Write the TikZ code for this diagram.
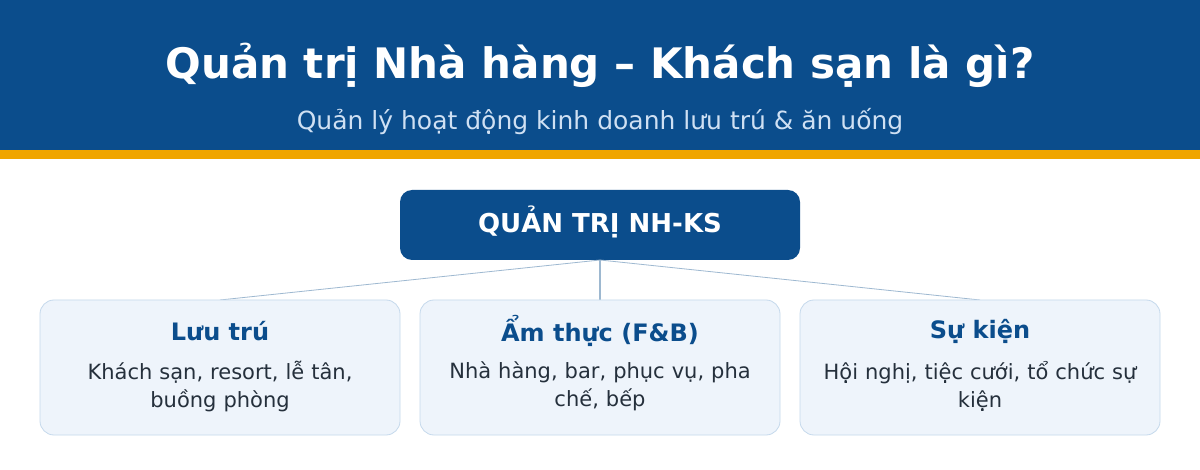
\documentclass[tikz,border=0pt]{standalone}
\usepackage{fontspec}
\setmainfont{DejaVu Sans}
\definecolor{hdr}{HTML}{0B4D8C}
\definecolor{gold}{HTML}{F0A500}
\definecolor{sub}{HTML}{CFE0F3}
\definecolor{cardfill}{HTML}{EEF4FB}
\definecolor{cardline}{HTML}{C5D9EC}
\definecolor{conn}{HTML}{9DB8D0}
\definecolor{bodytxt}{HTML}{25303C}
\tikzset{
  card/.style={draw=cardline, fill=cardfill, line width=0.8pt, rounded corners=14pt},
  cardtitle/.style={font=\fontsize{24}{28}\selectfont\bfseries, text=hdr},
  cardbody/.style={font=\fontsize{21}{28}\selectfont, text=bodytxt, align=center, text width=340pt},
  conline/.style={draw=conn, line width=0.8pt}
}
\begin{document}
\begin{tikzpicture}[x=1pt,y=-1pt]
\useasboundingbox (0,0) rectangle (1200,470);
\fill[white] (0,0) rectangle (1200,470);
\fill[hdr] (0,0) rectangle (1200,150);
\fill[gold] (0,150) rectangle (1200,159);
\node (title) at (600,65) {\fontsize{42}{50}\selectfont\bfseries\color{white}Quản trị Nhà hàng – Khách sạn là gì?};
\node (subtitle) at (600,121.5) {\fontsize{25}{30}\selectfont\color{sub}Quản lý hoạt động kinh doanh lưu trú \& ăn uống};
\node[fill=hdr, rounded corners=12pt, minimum width=400pt, minimum height=70pt, inner sep=0pt] (root) at (600,225) {};
\node (roottxt) at (600,222) {\fontsize{26}{30}\selectfont\bfseries\color{white}QUẢN TRỊ NH-KS};
\coordinate (rb) at (600,260);
\coordinate (c1) at (220,300);
\coordinate (c2) at (600,300);
\coordinate (c3) at (980,300);
\draw[conline] (rb) -- (c1);
\draw[conline, line width=1.2pt] (rb) -- (c2);
\draw[conline] (rb) -- (c3);
\node[card, minimum width=360pt, minimum height=135pt, inner sep=0pt] (b1) at (220,367.5) {};
\node[card, minimum width=360pt, minimum height=135pt, inner sep=0pt] (b2) at (600,367.5) {};
\node[card, minimum width=360pt, minimum height=135pt, inner sep=0pt] (b3) at (980,367.5) {};
\node[cardtitle] (t1) at (220,331) {Lưu trú};
\node[cardtitle] (t2) at (600,331) {Ẩm thực (F\&B)};
\node[cardtitle] (t3) at (980,331) {Sự kiện};
\node[cardbody] (d1) at (220,386) {Khách sạn, resort, lễ tân,\\buồng phòng};
\node[cardbody] (d2) at (600,386) {Nhà hàng, bar, phục vụ, pha\\chế, bếp};
\node[cardbody] (d3) at (980,386) {Hội nghị, tiệc cưới, tổ chức sự\\kiện};
\end{tikzpicture}
\end{document}
